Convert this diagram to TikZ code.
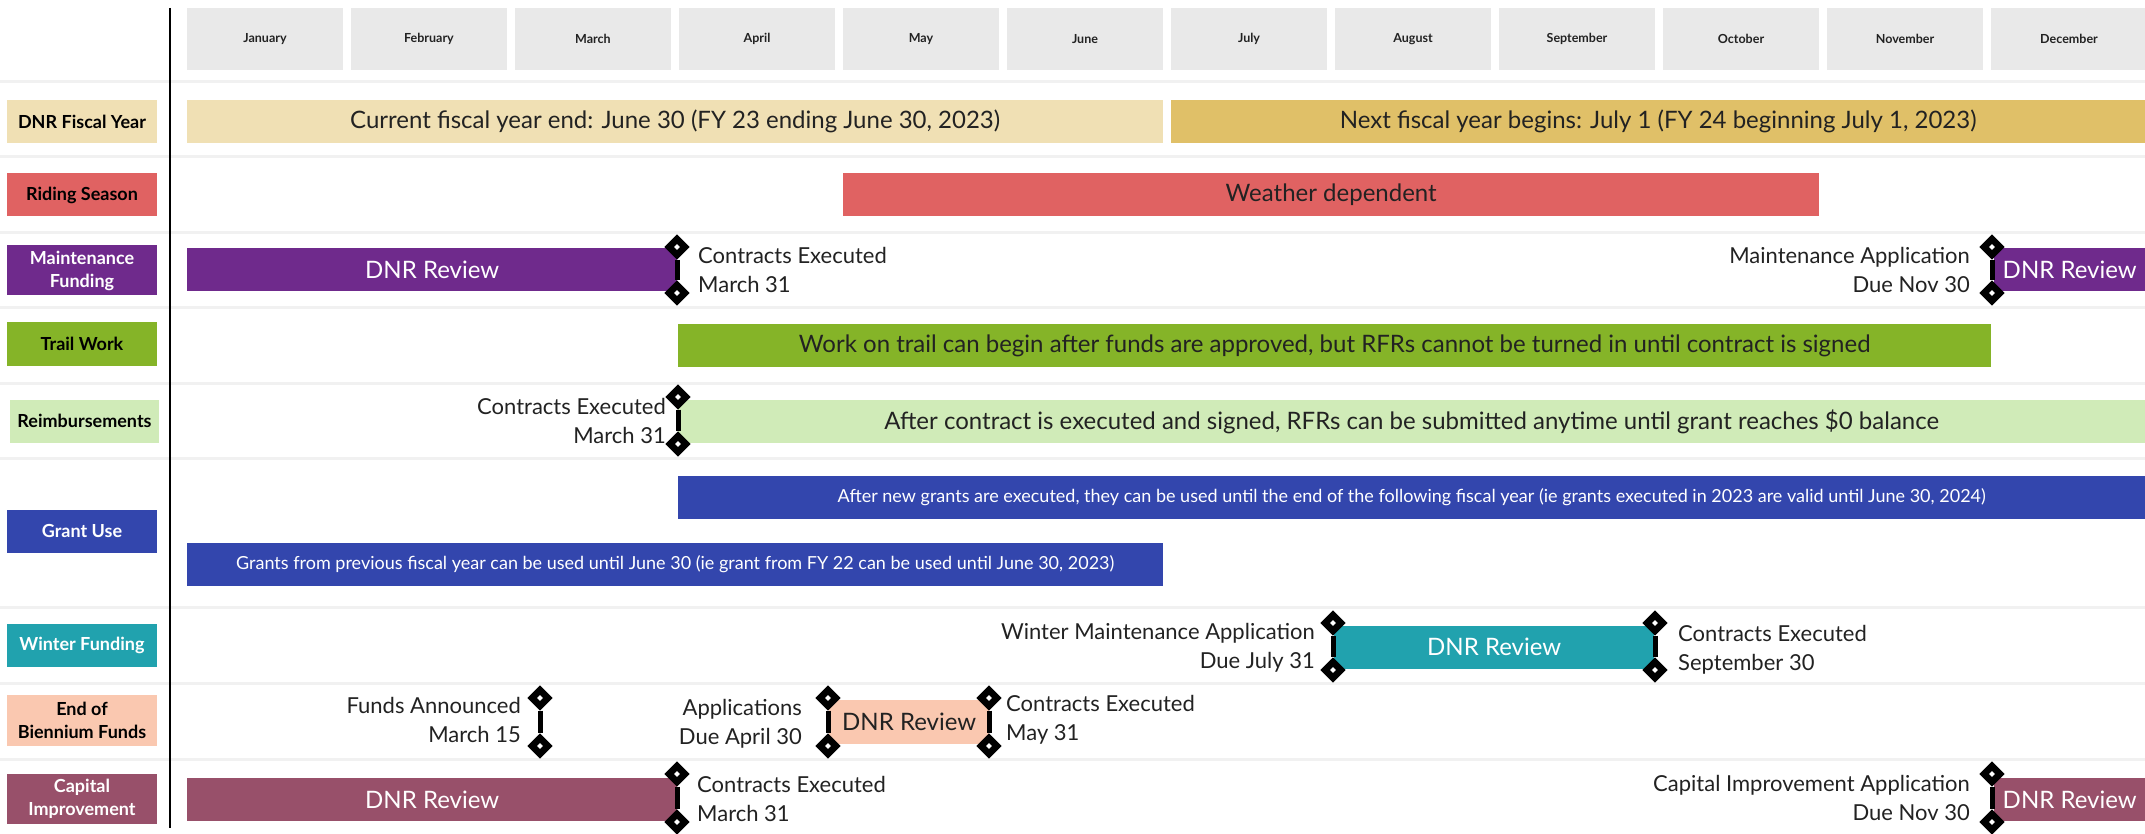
\documentclass[tikz,border=0pt]{standalone}
\usepackage{fontspec}
\setmainfont{Lato}
\usetikzlibrary{shapes.geometric}

\definecolor{fycur}{HTML}{F0E0B4}
\definecolor{fynext}{HTML}{E0C068}
\definecolor{riding}{HTML}{E06262}
\definecolor{maint}{HTML}{6F2A8C}
\definecolor{trail}{HTML}{85B428}
\definecolor{reimb}{HTML}{D0EBB8}
\definecolor{grant}{HTML}{3346AD}
\definecolor{winter}{HTML}{21A2AE}
\definecolor{bienn}{HTML}{FAC8B0}
\definecolor{capital}{HTML}{98506A}
\definecolor{monthgray}{HTML}{E9E9E9}
\definecolor{sepgray}{HTML}{F1F1F1}
\definecolor{ink}{HTML}{222222}

\tikzset{
	,rowlabel/.style = {rectangle, align=center, minimum width=150, minimum height=43, inner sep=0, text=black, font=\fontsize{18}{23}\selectfont\bfseries}
	,monthbox/.style = {rectangle, fill=monthgray, minimum width=156, minimum height=62, inner sep=0, text=ink, font=\fontsize{12.5}{14}\selectfont\bfseries}
	,bar/.style      = {rectangle, anchor=west, minimum height=43, inner sep=0, text=ink, font=\fontsize{24}{28}\selectfont}
	,smallbar/.style = {bar, text=white, font=\fontsize{18}{22}\selectfont}
	,mstone/.style   = {diamond, aspect=1, draw=black, line width=6.8, fill=white, minimum size=18.5, inner sep=0}
	,msline/.style   = {-, line width=5, black}
	,mstext/.style   = {inner sep=0, text=ink, font=\fontsize{22}{29}\selectfont}
	,rowsep/.style   = {line width=3, sepgray}
}

\begin{document}
\begin{tikzpicture}[x=1pt, y=-1pt]
	\clip (0,0) rectangle (2145,834);
	\fill[white] (0,0) rectangle (2145,834);

	% grid
	\foreach \y in {81.5,157,232.5,308,383,458,607,683,759}
		\draw[rowsep] (0,\y) -- (2145,\y);
	\foreach \m [count=\i] in {January,February,March,April,May,June,July,August,September,October,November,December}
		\node[monthbox] (mo\i) at ({187+(\i-1)*164+78}, 39) {\m};
	\draw[line width=2] (170,8) -- (170,828);

	% row labels
	\node[rowlabel, fill=fycur]                                    at (82, 121.5) (lfy)     {DNR Fiscal Year};
	\node[rowlabel, fill=riding]                                   at (82, 195)   (lride)   {Riding Season};
	\node[rowlabel, fill=maint, text=white, minimum height=50]     at (82, 270.5) (lmaint)  {Maintenance\\Funding};
	\node[rowlabel, fill=trail]                                    at (82, 344)   (ltrail)  {Trail Work};
	\node[rowlabel, fill=reimb, minimum width=149]                 at (84.5, 421) (lreimb)  {Reimbursements};
	\node[rowlabel, fill=grant, text=white]                        at (82, 531)   (lgrant)  {Grant Use};
	\node[rowlabel, fill=winter, text=white]                       at (82, 645)   (lwinter) {Winter Funding};
	\node[rowlabel, fill=bienn, minimum height=51]                 at (82, 720.5) (lbienn)  {End of\\Biennium Funds};
	\node[rowlabel, fill=capital, text=white, minimum height=50]   at (82, 799)   (lcap)    {Capital\\Improvement};

	% bars
	\node[bar, fill=fycur, minimum width=976]                  at (187, 121.5)  (fy1)   {Current fiscal year end: June 30 (FY 23 ending June 30, 2023)};
	\node[bar, fill=fynext, minimum width=974]                 at (1171, 121.5) (fy2)   {Next fiscal year begins: July 1 (FY 24 beginning July 1, 2023)};
	\node[bar, fill=riding, minimum width=976]                 at (843, 195)    (ride)  {Weather dependent};
	\node[bar, fill=maint, text=white, minimum width=490]      at (187, 270)    (mrev1) {DNR Review};
	\node[bar, fill=maint, text=white, minimum width=151]      at (1994, 270)   (mrev2) {DNR Review};
	\node[bar, fill=trail, minimum width=1313]                 at (678, 345.5)  (work)  {Work on trail can begin after funds are approved, but RFRs cannot be turned in until contract is signed};
	\node[bar, fill=reimb, minimum width=1467]                 at (678, 421.5)  (rfr)   {After contract is executed and signed, RFRs can be submitted anytime until grant reaches \$0 balance};
	\node[smallbar, fill=grant, minimum width=1467]            at (678, 497)    (gnew)  {After new grants are executed, they can be used until the end of the following fiscal year (ie grants executed in 2023 are valid until June 30, 2024)};
	\node[smallbar, fill=grant, minimum width=976]             at (187, 564.5)  (gold)  {Grants from previous fiscal year can be used until June 30 (ie grant from FY 22 can be used until June 30, 2023)};
	\node[bar, fill=winter, text=white, minimum width=320]     at (1334, 647)   (wrev)  {DNR Review};
	\node[bar, fill=bienn, minimum width=160, minimum height=44] at (829, 722)  (brev)  {DNR Review};
	\node[bar, fill=capital, text=white, minimum width=490]    at (187, 799.5)  (crev1) {DNR Review};
	\node[bar, fill=capital, text=white, minimum width=151]    at (1994, 799.5) (crev2) {DNR Review};

	% milestones
	\node[mstone] at (677, 247)  (m1t) {};
	\node[mstone] at (677, 293)  (m1b) {};
	\node[mstone] at (1992, 247) (m2t) {};
	\node[mstone] at (1992, 293) (m2b) {};
	\node[mstone] at (678, 397)  (m3t) {};
	\node[mstone] at (678, 444)  (m3b) {};
	\node[mstone] at (1333, 623) (m4t) {};
	\node[mstone] at (1333, 670) (m4b) {};
	\node[mstone] at (1655, 623) (m5t) {};
	\node[mstone] at (1655, 670) (m5b) {};
	\node[mstone] at (540, 698)  (m6t) {};
	\node[mstone] at (540, 746)  (m6b) {};
	\node[mstone] at (828, 698)  (m7t) {};
	\node[mstone] at (828, 746)  (m7b) {};
	\node[mstone] at (989, 698)  (m8t) {};
	\node[mstone] at (989, 746)  (m8b) {};
	\node[mstone] at (677, 774)  (m9t) {};
	\node[mstone] at (677, 822)  (m9b) {};
	\node[mstone] at (1992, 774) (m10t) {};
	\node[mstone] at (1992, 822) (m10b) {};
	\foreach \k in {1,...,10}
		\draw[msline] (m\k t) edge (m\k b);

	% milestone texts
	\node[mstext, anchor=west, align=left]  at (698, 270)  (t1)  {Contracts Executed\\March 31};
	\node[mstext, anchor=east, align=right] at (1970, 270) (t2)  {Maintenance Application\\Due Nov 30};
	\node[mstext, anchor=east, align=right] at (666, 421)  (t3)  {Contracts Executed\\March 31};
	\node[mstext, anchor=east, align=right] at (1315, 648) (t4)  {Winter Maintenance Application\\Due July 31};
	\node[mstext, anchor=west, align=left]  at (1678, 650) (t5)  {Contracts Executed\\September 30};
	\node[mstext, anchor=east, align=right] at (521, 720)  (t6)  {Funds Announced\\March 15};
	\node[mstext, anchor=east, align=right] at (802, 724)  (t7)  {Applications\\Due April 30};
	\node[mstext, anchor=west, align=left]  at (1006, 720) (t8)  {Contracts Executed\\May 31};
	\node[mstext, anchor=west, align=left]  at (697, 799)  (t9)  {Contracts Executed\\March 31};
	\node[mstext, anchor=east, align=right] at (1970, 798) (t10) {Capital Improvement Application\\Due Nov 30};
\end{tikzpicture}
\end{document}
